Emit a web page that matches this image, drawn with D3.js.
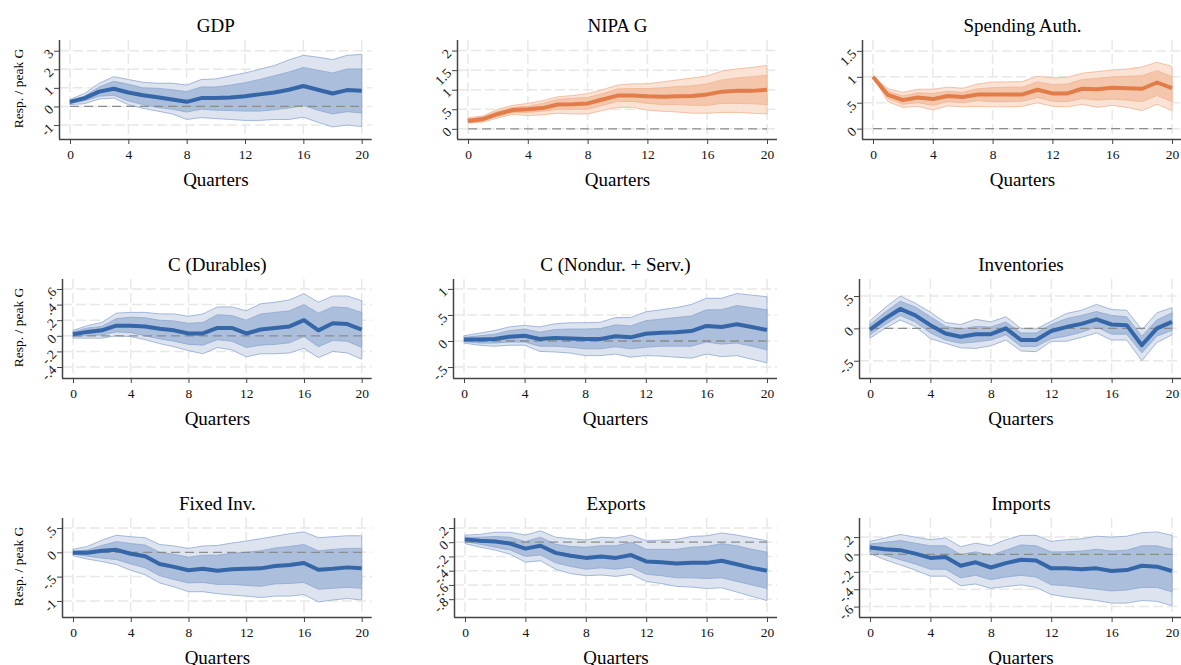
<!DOCTYPE html>
<html>
<head>
<meta charset="utf-8">
<script src="https://cdn.jsdelivr.net/npm/d3@7"></script>
<style>
  body { margin: 0; background: #fff; }
  svg { display: block; font-family: "Liberation Serif", "Times New Roman", serif; }
</style>
</head>
<body>
<div id="chart"></div>
<script>
const quarters = [0, 1, 2, 3, 4, 5, 6, 7, 8, 9, 10, 11, 12, 13, 14, 15, 16, 17, 18, 19, 20];
const xTicks = [0, 4, 8, 12, 16, 20];

// GDP
const gdpMed  = [.25, .45, .8, .95, .75, .6, .5, .38, .25, .45, .45, .48, .55, .65, .75, .9, 1.1, .9, .7, .88, .85];
const gdpHi68 = [.3, .55, 1.05, 1.35, 1.2, 1.0, .98, .9, .8, 1.05, 1.05, 1.15, 1.28, 1.45, 1.65, 1.85, 2.1, 1.95, 1.8, 2.02, 2.02];
const gdpLo68 = [.15, .3, .55, .6, .3, .1, -.05, -.15, -.3, -.15, -.2, -.22, -.25, -.25, -.18, -.08, .05, -.2, -.4, -.28, -.35];
const gdpHi90 = [.38, .7, 1.25, 1.6, 1.45, 1.3, 1.25, 1.25, 1.15, 1.45, 1.48, 1.65, 1.8, 2.0, 2.2, 2.5, 2.75, 2.65, 2.52, 2.75, 2.8];
const gdpLo90 = [.1, .15, .4, .45, .1, -.1, -.25, -.4, -.7, -.6, -.65, -.7, -.75, -.75, -.7, -.7, -.58, -.85, -1.1, -1.0, -1.08];
const gdpTicks = [-1, 0, 1, 2, 3];

// NIPA G
const nipaMed  = [.2, .25, .38, .48, .5, .53, .62, .63, .65, .75, .85, .85, .83, .82, .83, .84, .88, .95, .97, .97, 1.0];
const nipaHi68 = [.25, .3, .45, .55, .58, .65, .75, .78, .8, .9, 1.02, 1.03, 1.03, 1.05, 1.08, 1.1, 1.15, 1.25, 1.3, 1.33, 1.37];
const nipaLo68 = [.17, .2, .32, .42, .42, .45, .5, .5, .5, .6, .7, .7, .65, .62, .62, .6, .6, .65, .65, .64, .62];
const nipaHi90 = [.28, .33, .5, .6, .65, .72, .82, .85, .9, 1.0, 1.12, 1.15, 1.15, 1.2, 1.25, 1.3, 1.35, 1.48, 1.53, 1.57, 1.62];
const nipaLo90 = [.15, .17, .28, .37, .34, .36, .4, .38, .38, .47, .55, .55, .48, .45, .43, .4, .4, .42, .42, .4, .38];
const nipaTicks = [0, .5, 1, 1.5, 2];

// Spending authority
const authMed  = [1.0, .65, .55, .6, .57, .63, .61, .66, .66, .66, .66, .75, .68, .68, .77, .76, .79, .78, .77, .89, .78];
const authHi68 = [1.0, .72, .63, .69, .68, .72, .7, .77, .79, .8, .8, .9, .85, .86, .95, .97, 1.0, 1.01, 1.02, 1.12, 1.0];
const authLo68 = [1.0, .58, .47, .5, .45, .52, .5, .54, .52, .52, .53, .6, .53, .52, .58, .55, .57, .55, .52, .64, .52];
const authHi90 = [1.0, .77, .7, .76, .76, .8, .78, .86, .9, .9, .91, 1.01, .98, .99, 1.07, 1.1, 1.13, 1.15, 1.19, 1.28, 1.2];
const authLo90 = [1.0, .52, .41, .43, .36, .44, .42, .43, .42, .42, .43, .5, .43, .42, .47, .41, .45, .41, .35, .47, .35];
const authTicks = [0, .5, 1, 1.5];

// C (Durables)
const durMed  = [.02, .05, .07, .13, .13, .12, .09, .07, .03, .03, .1, .1, .03, .08, .1, .12, .2, .07, .16, .15, .08];
const durHi68 = [.05, .1, .12, .22, .24, .23, .2, .19, .16, .17, .27, .26, .2, .28, .3, .32, .4, .29, .37, .36, .3];
const durLo68 = [-.01, 0, .01, .05, .04, 0, -.04, -.07, -.11, -.12, -.05, -.07, -.15, -.12, -.11, -.09, -.01, -.14, -.06, -.07, -.15];
const durHi90 = [.07, .13, .17, .29, .3, .3, .28, .28, .25, .28, .37, .37, .32, .41, .43, .46, .54, .43, .51, .51, .45];
const durLo90 = [-.03, -.03, -.03, 0, -.01, -.05, -.1, -.14, -.19, -.23, -.15, -.18, -.27, -.23, -.23, -.22, -.16, -.28, -.2, -.22, -.3];
const durTicks = [-.4, -.2, 0, .2, .4, .6];

// C (Nondur. + Serv.)
const ndsMed  = [.03, .03, .04, .08, .1, .04, .06, .05, .04, .04, .09, .07, .14, .16, .17, .19, .29, .27, .32, .27, .21];
const ndsHi68 = [.07, .1, .13, .2, .23, .17, .22, .23, .23, .24, .31, .29, .39, .42, .45, .48, .6, .6, .68, .64, .6];
const ndsLo68 = [-.01, -.04, -.04, -.02, -.02, -.1, -.1, -.12, -.15, -.15, -.11, -.15, -.12, -.1, -.1, -.1, -.02, -.06, -.04, -.1, -.17];
const ndsHi90 = [.1, .15, .2, .27, .3, .27, .33, .35, .35, .36, .45, .45, .56, .6, .64, .7, .82, .82, .91, .88, .85];
const ndsLo90 = [-.04, -.08, -.1, -.08, -.08, -.2, -.21, -.23, -.28, -.28, -.25, -.31, -.28, -.29, -.31, -.33, -.25, -.3, -.28, -.35, -.42];
const ndsTicks = [-.5, 0, .5, 1];

// Inventories
const invMed  = [-.02, .15, .3, .2, .05, -.08, -.13, -.09, -.09, 0, -.18, -.18, -.04, .02, .07, .14, .06, .05, -.26, 0, .1];
const invHi68 = [.06, .25, .42, .33, .18, .03, -.01, .03, .02, .1, -.07, -.07, .06, .15, .2, .26, .2, .18, -.12, .13, .24];
const invLo68 = [-.1, .06, .2, .1, -.07, -.18, -.23, -.21, -.18, -.1, -.28, -.28, -.16, -.12, -.06, .02, -.09, -.09, -.38, -.12, -.03];
const invHi90 = [.12, .32, .5, .39, .25, .09, .06, .14, .1, .18, 0, -.01, .11, .23, .28, .37, .29, .28, -.02, .24, .32];
const invLo90 = [-.15, 0, .13, .03, -.16, -.23, -.3, -.31, -.27, -.18, -.35, -.36, -.2, -.2, -.14, -.07, -.18, -.18, -.5, -.22, -.1];
const invTicks = [-.5, 0, .5];

// Fixed investment
const fixMed  = [-.01, -.01, .03, .05, -.03, -.08, -.24, -.3, -.37, -.34, -.38, -.35, -.34, -.33, -.28, -.26, -.22, -.36, -.34, -.31, -.33];
const fixHi68 = [.02, .05, .14, .22, .18, .15, 0, -.04, -.1, -.06, -.06, -.02, 0, .03, .09, .12, .16, .03, .06, .08, .08];
const fixLo68 = [-.04, -.08, -.12, -.15, -.24, -.32, -.48, -.56, -.63, -.62, -.66, -.66, -.68, -.7, -.65, -.64, -.62, -.76, -.74, -.72, -.74];
const fixHi90 = [.06, .12, .25, .35, .32, .3, .16, .13, .08, .13, .14, .19, .23, .28, .33, .38, .42, .3, .32, .34, .34];
const fixLo90 = [-.07, -.14, -.19, -.25, -.37, -.46, -.63, -.71, -.81, -.81, -.85, -.88, -.9, -.93, -.9, -.9, -.87, -1.02, -.98, -.95, -.98];
const fixTicks = [-1, -.5, 0, .5];

// Exports
const expMed  = [.04, .02, .01, -.02, -.09, -.05, -.15, -.19, -.22, -.2, -.22, -.18, -.27, -.28, -.3, -.29, -.29, -.26, -.31, -.36, -.4];
const expHi68 = [.07, .07, .08, .07, .01, .07, -.03, -.06, -.07, -.05, -.05, 0, -.1, -.1, -.1, -.07, -.06, -.02, -.05, -.1, -.14];
const expLo68 = [.01, -.03, -.07, -.11, -.2, -.18, -.29, -.34, -.38, -.36, -.38, -.35, -.45, -.47, -.5, -.5, -.51, -.5, -.55, -.6, -.65];
const expHi90 = [.1, .11, .14, .14, .1, .16, .07, .05, .03, .07, .06, .1, .02, .03, .04, .08, .09, .13, .1, .06, .02];
const expLo90 = [-.02, -.07, -.11, -.17, -.28, -.26, -.38, -.44, -.47, -.46, -.48, -.45, -.55, -.58, -.62, -.63, -.65, -.64, -.7, -.76, -.82];
const expTicks = [-.8, -.6, -.4, -.2, 0, .2];

// Imports
const impMed  = [.08, .06, .05, .01, -.04, -.03, -.13, -.09, -.15, -.1, -.06, -.07, -.16, -.16, -.17, -.16, -.19, -.18, -.13, -.14, -.19];
const impHi68 = [.12, .14, .16, .13, .1, .1, 0, .03, -.01, .05, .11, .1, .03, .03, .04, .06, .04, .05, .1, .1, .06];
const impLo68 = [.03, -.01, -.06, -.11, -.17, -.17, -.27, -.24, -.29, -.26, -.24, -.26, -.35, -.36, -.38, -.4, -.42, -.41, -.38, -.38, -.43];
const impHi90 = [.15, .19, .23, .2, .17, .19, .09, .13, .1, .17, .22, .22, .15, .17, .18, .21, .2, .21, .25, .26, .22];
const impLo90 = [.01, -.06, -.12, -.18, -.25, -.25, -.36, -.34, -.39, -.37, -.35, -.38, -.46, -.49, -.51, -.53, -.56, -.56, -.53, -.54, -.59];
const impTicks = [-.6, -.4, -.2, 0, .2];

const blue = { line: "#3466a8", inner: "#abbedb", outer: "#dde4f0", edge: "#8ea8d0" };
const orange = { line: "#e27c48", inner: "#f4c7ac", outer: "#fae3d5", edge: "#f2b290" };

const panels = [
  { title: "GDP", med: gdpMed, hi68: gdpHi68, lo68: gdpLo68, hi90: gdpHi90, lo90: gdpLo90, ticks: gdpTicks, dom: [-1.75, 3.575], col: 0, row: 0, ax: 59, pal: blue },
  { title: "NIPA G", med: nipaMed, hi68: nipaHi68, lo68: nipaLo68, hi90: nipaHi90, lo90: nipaLo90, ticks: nipaTicks, dom: [-0.26, 2.27], col: 1, row: 0, ax: 457, pal: orange },
  { title: "Spending Auth.", med: authMed, hi68: authHi68, lo68: authLo68, hi90: authHi90, lo90: authLo90, ticks: authTicks, dom: [-0.2, 1.71], col: 2, row: 0, ax: 862, pal: orange },
  { title: "C (Durables)", med: durMed, hi68: durHi68, lo68: durLo68, hi90: durHi90, lo90: durLo90, ticks: durTicks, dom: [-0.541, 0.728], col: 0, row: 1, ax: 62, pal: blue },
  { title: "C (Nondur. + Serv.)", med: ndsMed, hi68: ndsHi68, lo68: ndsLo68, hi90: ndsHi90, lo90: ndsLo90, ticks: ndsTicks, dom: [-0.71, 1.19], col: 1, row: 1, ax: 453, pal: blue },
  { title: "Inventories", med: invMed, hi68: invHi68, lo68: invLo68, hi90: invHi90, lo90: invLo90, ticks: invTicks, dom: [-0.767, 0.763], col: 2, row: 1, ax: 859, pal: blue },
  { title: "Fixed Inv.", med: fixMed, hi68: fixHi68, lo68: fixLo68, hi90: fixHi90, lo90: fixLo90, ticks: fixTicks, dom: [-1.33, 0.705], col: 0, row: 2, ax: 62, pal: blue },
  { title: "Exports", med: expMed, hi68: expHi68, lo68: expLo68, hi90: expHi90, lo90: expLo90, ticks: expTicks, dom: [-1.05, 0.34], col: 1, row: 2, ax: 454, pal: blue },
  { title: "Imports", med: impMed, hi68: impHi68, lo68: impLo68, hi90: impHi90, lo90: impLo90, ticks: impTicks, dom: [-0.72, 0.42], col: 2, row: 2, ax: 859, pal: blue },
];

const width = 1181, height = 665;
const colEnd = [361.7, 767, 1172];
const rowTop = [40, 279, 518], rowBottom = [139, 378, 617];

const fmt = (v) => {
  if (v === 0) return "0";
  let s = String(Math.abs(v)).replace(/^0\./, ".");
  return (v < 0 ? "-" : "") + s;
};

const svg = d3.select("#chart").append("svg")
  .attr("width", width)
  .attr("height", height);

panels.forEach((p) => {
  const top = rowTop[p.row], bottom = rowBottom[p.row];
  const x0 = p.ax + 11, x1 = colEnd[p.col];
  const right = x1 + 10;
  const x = d3.scaleLinear().domain([0, 20]).range([x0, x1]);
  const y = d3.scaleLinear().domain(p.dom).range([bottom, top]);
  const g = svg.append("g");

  // grid
  g.selectAll(".hgrid").data(p.ticks).enter().append("line")
    .attr("x1", p.ax).attr("x2", right)
    .attr("y1", (d) => y(d)).attr("y2", (d) => y(d))
    .attr("stroke", "#e8e8e8").attr("stroke-width", 1.5)
    .attr("stroke-dasharray", "10,4");
  g.selectAll(".vgrid").data(xTicks).enter().append("line")
    .attr("x1", (d) => x(d)).attr("x2", (d) => x(d))
    .attr("y1", top).attr("y2", bottom)
    .attr("stroke", "#e8e8e8").attr("stroke-width", 1.5)
    .attr("stroke-dasharray", "10,4");

  const band = (lo, hi) => d3.area()
    .x((d) => x(d))
    .y0((d, i) => y(lo[i]))
    .y1((d, i) => y(hi[i]));

  g.append("path").datum(quarters)
    .attr("d", band(p.lo90, p.hi90))
    .attr("fill", p.pal.outer)
    .attr("stroke", p.pal.edge).attr("stroke-width", 0.8);
  g.append("path").datum(quarters)
    .attr("d", band(p.lo68, p.hi68))
    .attr("fill", p.pal.inner)
    .attr("stroke", p.pal.edge).attr("stroke-width", 0.8);

  // zero line
  g.append("line")
    .attr("x1", x(0)).attr("x2", x(20))
    .attr("y1", y(0)).attr("y2", y(0))
    .attr("stroke", "#8c8c8c").attr("stroke-width", 1.3)
    .attr("stroke-dasharray", "9,5");

  g.append("path").datum(quarters)
    .attr("d", d3.line().x((d) => x(d)).y((d, i) => y(p.med[i])))
    .attr("fill", "none")
    .attr("stroke", p.pal.line)
    .attr("stroke-width", 4)
    .attr("stroke-linejoin", "round");

  // axes
  const xAxis = g.append("g")
    .attr("transform", `translate(0,${bottom})`)
    .call(d3.axisBottom(x).tickValues(xTicks).tickSize(5).tickPadding(5).tickSizeOuter(0));
  xAxis.select(".domain").attr("d", `M${p.ax},0.5H${right}`);
  xAxis.selectAll("line").attr("stroke", "#444");
  xAxis.selectAll("text")
    .attr("fill", "#111")
    .style("font-size", "13.5px")
    .style("font-family", "Liberation Serif");

  const yAxis = g.append("g")
    .attr("transform", `translate(${p.ax},0)`)
    .call(d3.axisLeft(y).tickValues(p.ticks).tickFormat(fmt).tickSize(5).tickSizeOuter(0));
  yAxis.select(".domain").attr("d", `M0.5,${top}V${bottom}`);
  yAxis.selectAll("line").attr("stroke", "#444");
  yAxis.selectAll("text")
    .attr("x", -8).attr("dy", "0.35em")
    .attr("transform", "rotate(-45,-8,0)")
    .attr("fill", "#111")
    .style("font-size", "13.5px")
    .style("font-family", "Liberation Serif");
  g.selectAll(".domain").attr("stroke", "#444").attr("stroke-width", 1.5);

  // titles
  g.append("text")
    .attr("x", (x0 + x1) / 2).attr("y", top - 8)
    .attr("text-anchor", "middle")
    .style("font-size", "19px")
    .text(p.title);
  g.append("text")
    .attr("x", (x0 + x1) / 2).attr("y", bottom + 47)
    .attr("text-anchor", "middle")
    .style("font-size", "19px")
    .text("Quarters");

  if (p.col === 0) {
    g.append("text")
      .attr("transform", `translate(23,${(top + bottom) / 2 - 1}) rotate(-90)`)
      .attr("text-anchor", "middle")
      .style("font-size", "13.5px")
      .text("Resp. / peak G");
  }
});
</script>
</body>
</html>
